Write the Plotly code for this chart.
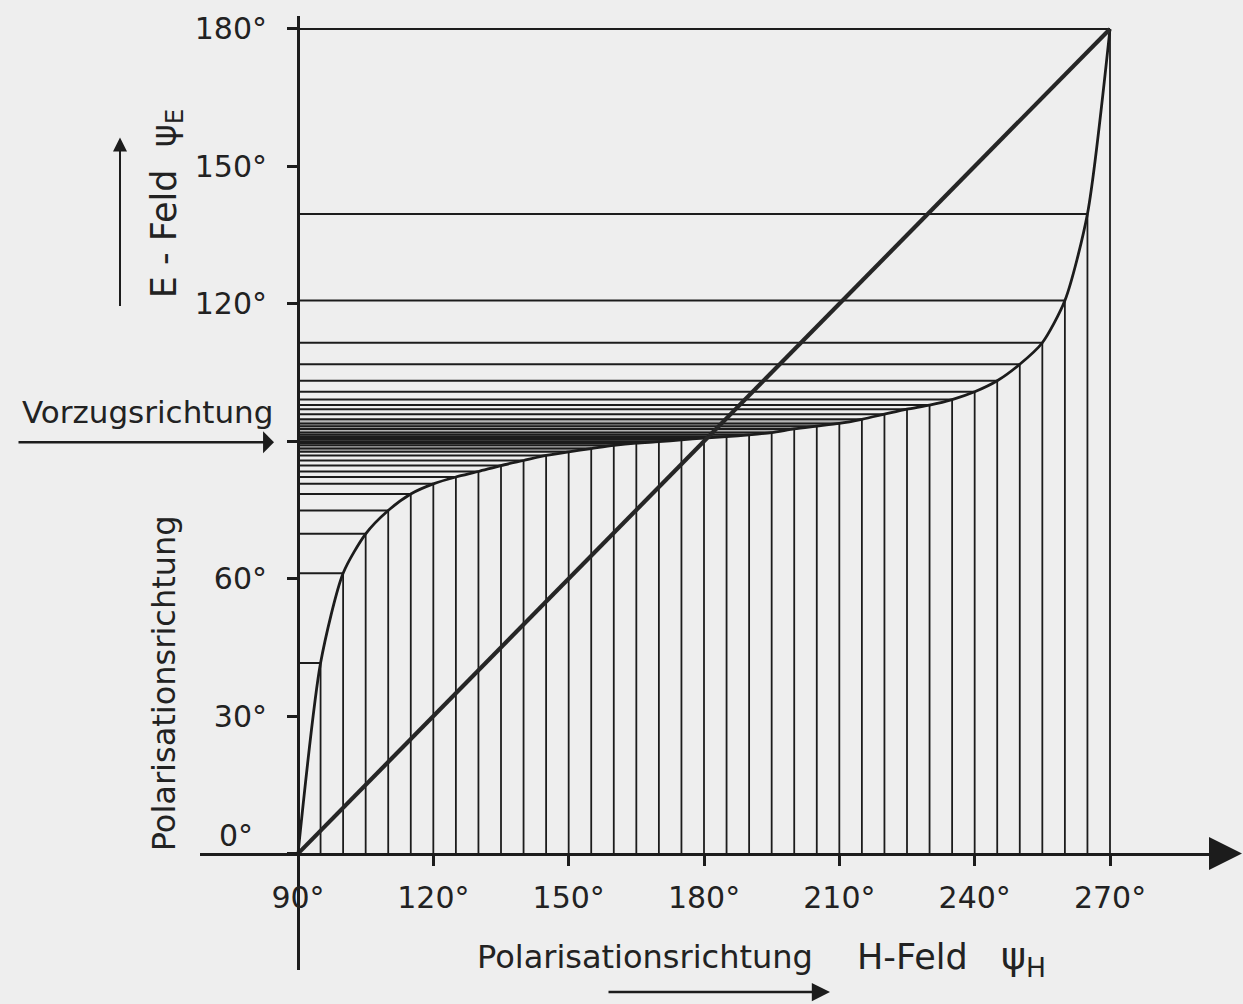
import plotly.graph_objects as go

# ---------------- data ----------------
psi_h = [90, 95, 100, 105, 110, 115, 120, 125, 130, 135, 140, 145, 150, 155, 160,
         165, 170, 175, 180, 185, 190, 195, 200, 205, 210, 215, 220, 225, 230, 235,
         240, 245, 250, 255, 260, 265, 270]
psi_e = [0.0, 41.6, 61.2, 69.8, 74.9, 78.5, 80.7, 82.2, 83.4, 84.7, 85.8, 86.9, 87.7,
         88.4, 89.1, 89.6, 89.9, 90.3, 90.7, 91.0, 91.4, 91.9, 92.7, 93.3, 93.9, 94.8,
         95.9, 97.0, 97.9, 99.1, 100.8, 103.2, 106.8, 111.5, 120.7, 139.6, 180.0]
diag_h = [90, 270]
diag_e = [0, 180]
band_from, band_to = 150, 215          # dense (stippled) band of projection lines

x_ticks = [90, 120, 150, 180, 210, 240, 270]
x_tick_labels = ["90°", "120°", "150°", "180°", "210°", "240°", "270°"]
y_ticks = [0, 30, 60, 90, 120, 150, 180]
y_tick_labels = ["", "30°", "60°", "", "120°", "150°", "180°"]

# ---------------- geometry / style ----------------
W, H = 1243, 1004
SX = 812 / 180.0      # px per degree (horizontal)
SY = 828 / 180.0      # px per degree (vertical)
X0, Y0 = 298, 853     # pixel position of (90°, 0°)
INK = "#1c1c1c"
BG = "#eeeeee"
FONT = "DejaVu Sans, Liberation Sans, sans-serif"


def px(x):
    return x / W


def py(y):
    return 1 - y / H


x_dom = [200 / W, 1230 / W]
y_dom = [(H - 970) / H, (H - 12) / H]
x_rng = [90 + (200 - X0) / SX, 90 + (1230 - X0) / SX]
y_rng = [-(970 - Y0) / SY, (Y0 - 12) / SY]

# projection lines built from the data
vx, vy, hx, hy = [], [], [], []
for h, e in zip(psi_h, psi_e):
    vx += [h, h, None]
    vy += [0, e, None]
    hx += [90, h, None]
    hy += [e, e, None]

band_pts = [(h, e) for h, e in zip(psi_h, psi_e) if band_from <= h <= band_to]
bx = [90] + [p[0] for p in band_pts] + [90]
by = [band_pts[0][1]] + [p[1] for p in band_pts] + [band_pts[-1][1]]

fig = go.Figure()
fig.add_trace(go.Scatter(x=bx, y=by, mode="lines", fill="toself", line=dict(width=0),
                         fillcolor="rgba(110,110,110,0.45)",
                         hoverinfo="skip", showlegend=False))
fig.add_trace(go.Scatter(x=vx, y=vy, mode="lines", line=dict(color=INK, width=1.8),
                         hoverinfo="skip", showlegend=False))
fig.add_trace(go.Scatter(x=hx, y=hy, mode="lines", line=dict(color=INK, width=2.0),
                         hoverinfo="skip", showlegend=False))
fig.add_trace(go.Scatter(x=psi_h, y=psi_e, mode="lines",
                         line=dict(color=INK, width=2.8, shape="spline", smoothing=0.7),
                         showlegend=False))
fig.add_trace(go.Scatter(x=diag_h, y=diag_e, mode="lines", line=dict(color="#262626", width=4.2),
                         showlegend=False))

tickfont = dict(family=FONT, size=30, color="#222222")
fig.update_layout(
    width=W, height=H, autosize=False,
    margin=dict(l=0, r=0, t=0, b=0),
    paper_bgcolor=BG, plot_bgcolor=BG,
    showlegend=False,
    xaxis=dict(domain=x_dom, range=x_rng, anchor="free", position=py(Y0),
               showgrid=False, zeroline=False, showline=True, linecolor=INK, linewidth=3,
               ticks="outside", ticklen=10, tickwidth=2.5, tickcolor=INK,
               tickvals=x_ticks, ticktext=x_tick_labels, tickfont=tickfont,
               ticklabelstandoff=6),
    yaxis=dict(domain=y_dom, range=y_rng, anchor="free", position=px(X0),
               showgrid=False, zeroline=False, showline=True, linecolor=INK, linewidth=3,
               ticks="outside", ticklen=10, tickwidth=2.5, tickcolor=INK,
               tickvals=y_ticks, ticktext=y_tick_labels, tickfont=tickfont,
               ticklabelstandoff=14),
)

ann = [
    dict(x=px(236), y=py(835), text="0°"),
    dict(x=px(147), y=py(410), text="Vorzugsrichtung", size=31),
    dict(x=px(164), y=py(682), text="Polarisationsrichtung", textangle=-90, size=32),
    dict(x=px(166), y=py(200), text="E - Feld  ψ<sub>E</sub>", textangle=-90, size=35),
    dict(x=px(645), y=py(957), text="Polarisationsrichtung", size=32),
    dict(x=px(912), y=py(957), text="H-Feld", size=35),
    dict(x=px(1024), y=py(958), text="ψ<sub>H</sub>", size=38),
]
for a in ann:
    size = a.pop("size", 30)
    a.update(xref="paper", yref="paper", showarrow=False, xanchor="center", yanchor="middle",
             font=dict(family=FONT, size=size, color="#222222"))

arrows = [
    dict(x=px(274), y=py(440), ax=-257, ay=0, arrowhead=1, arrowsize=1.4, arrowwidth=2.6),
    dict(x=px(120), y=py(134), ax=0, ay=170, arrowhead=2, arrowsize=1.4, arrowwidth=2),
    dict(x=px(830), y=py(992), ax=-223, ay=0, arrowhead=2, arrowsize=1.4, arrowwidth=2.6),
    dict(x=px(1242), y=py(853), ax=-34, ay=0, arrowhead=2, arrowsize=2.2, arrowwidth=3),
]
for a in arrows:
    a.update(xref="paper", yref="paper", axref="pixel", ayref="pixel", text="",
             showarrow=True, arrowcolor=INK)

fig.update_layout(annotations=ann + arrows)
fig.write_html("out.html", config={"displayModeBar": False},
               post_script="document.body.style.margin='0';"
                           "document.body.style.background='#eeeeee';")
